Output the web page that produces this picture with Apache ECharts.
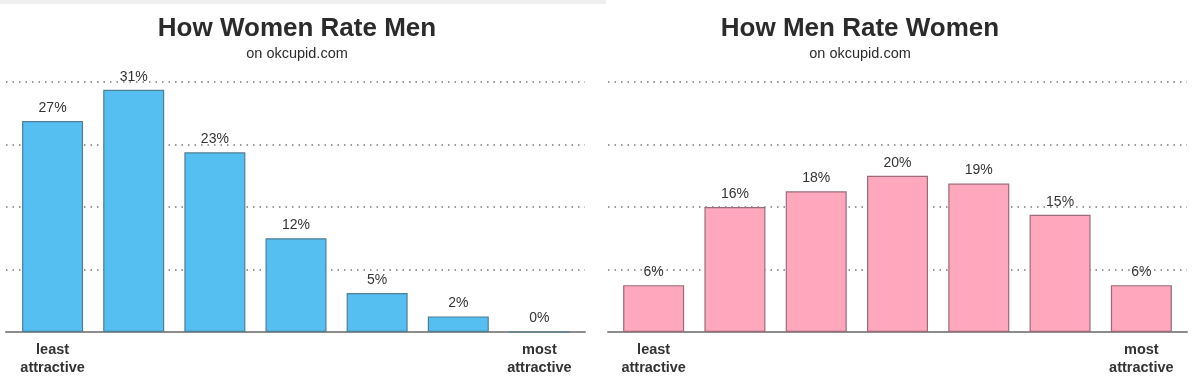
<!DOCTYPE html>
<html>
<head>
<meta charset="utf-8">
<script src="https://cdn.jsdelivr.net/npm/echarts@6/dist/echarts.min.js"></script>
<style>html,body{margin:0;padding:0;background:#fff}#c{width:1200px;height:390px}</style>
</head>
<body>
<div id="c"></div>
<script>
const ratings = ['1', '2', '3', '4', '5', '6', '7'];
const xLabels = ['least\nattractive', '', '', '', '', '', 'most\nattractive'];
const womenRateMen = [27, 31, 23, 12, 5, 2, 0];
const menRateWomen = [6, 16, 18, 20, 19, 15, 6];
const yTicks = [0, 8, 16, 24, 32];
const titles = ['How Women Rate Men', 'How Men Rate Women'];
const subtitle = 'on okcupid.com';

const chart = echarts.init(document.getElementById('c'), null, {renderer: 'canvas'});
const txt = '#333333';
const gridLineStyle = {color: '#7a7a7a', width: 1.5, type: [1.5, 5]};

function bg(i, left, width) {
  return {
    grid: {left: left, width: width, top: 82, bottom: 58},
    x: {type: 'category', gridIndex: i, data: ratings, boundaryGap: true,
        axisLine: {show: true, lineStyle: {color: '#8c8c8c', width: 2}},
        axisTick: {show: false}, axisLabel: {show: false}},
    y: {type: 'value', gridIndex: i, min: yTicks[0], max: yTicks[yTicks.length - 1], interval: yTicks[1] - yTicks[0],
        axisLine: {show: false}, axisTick: {show: false}, axisLabel: {show: false},
        splitLine: {show: true, lineStyle: gridLineStyle}}
  };
}
function fg(i, left, width) {
  return {
    grid: {left: left, width: width, top: 82, bottom: 58},
    x: {type: 'category', gridIndex: i, data: ratings, boundaryGap: true,
        axisLine: {show: false}, axisTick: {show: false},
        axisLabel: {show: true, interval: 0, margin: 9, color: txt, fontSize: 14.5, fontWeight: 'bold',
                    fontFamily: 'Liberation Sans', lineHeight: 18,
                    formatter: (v, idx) => xLabels[idx]}},
    y: {type: 'value', gridIndex: i, min: yTicks[0], max: yTicks[yTicks.length - 1], interval: yTicks[1] - yTicks[0],
        show: false, splitLine: {show: false}}
  };
}
const parts = [bg(0, 6, 579), fg(1, 12, 568), bg(2, 608, 579), fg(3, 613, 569)];

function barSeries(idx, data, color, border) {
  return {
    type: 'bar', xAxisIndex: idx, yAxisIndex: idx, data: data, barWidth: 61,
    itemStyle: {color: color, borderColor: border, borderWidth: 1.2},
    label: {show: true, position: 'top', distance: 6, color: txt, fontSize: 14,
            fontFamily: 'Liberation Sans', formatter: p => p.value + '%'},
    silent: true, animation: false
  };
}

function title(text, cx) {
  return {text: text, left: cx, top: 16, textAlign: 'center', padding: 0,
     textStyle: {fontSize: 26, fontWeight: 'bold', color: '#2b2b2b', fontFamily: 'Liberation Sans'},
     subtext: subtitle, itemGap: 4,
     subtextStyle: {fontSize: 14.5, color: '#2b2b2b', fontFamily: 'Liberation Sans'}};
}

chart.setOption({
  animation: false,
  backgroundColor: '#ffffff',
  title: [title(titles[0], 297), title(titles[1], 860)],
  graphic: [{type: 'rect', shape: {x: 0, y: 0, width: 606, height: 4}, style: {fill: '#efefef'}, silent: true}],
  grid: parts.map(p => p.grid),
  xAxis: parts.map(p => p.x),
  yAxis: parts.map(p => p.y),
  series: [
    barSeries(1, womenRateMen, '#55bff1', '#4f7f95'),
    barSeries(3, menRateWomen, '#fea7bd', '#9c6b79')
  ]
});
</script>
</body>
</html>
